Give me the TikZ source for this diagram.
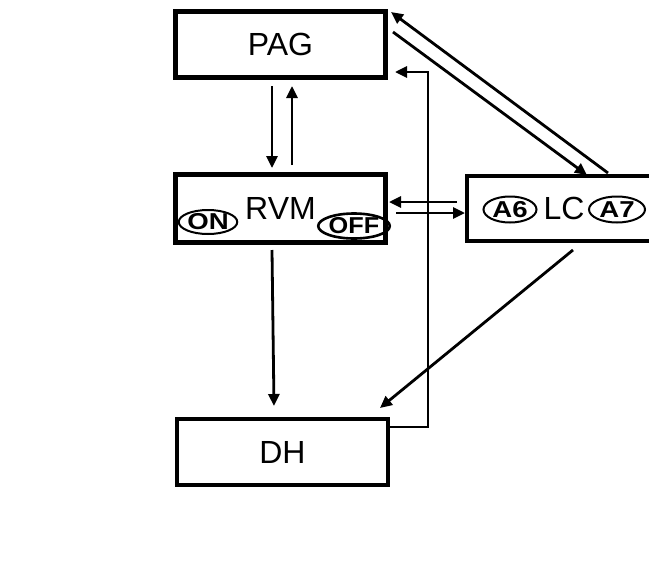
\documentclass[tikz,border=0pt]{standalone}
\usepackage{fontspec}
\setmainfont{Liberation Sans}
\usetikzlibrary{arrows.meta,calc,shapes.geometric}
\begin{document}
\begin{tikzpicture}[x=1pt,y=-1pt,
  bigbox/.style={draw,rectangle,inner sep=0pt,font=\fontsize{32}{32}\selectfont},
  thickbox/.style={bigbox,line width=5pt},
  thinbox/.style={bigbox,line width=4pt},
  oval/.style={draw,ellipse,inner sep=0pt,line width=2pt,font=\fontsize{23}{23}\selectfont\bfseries},
  arr/.style={line width=2.8pt,-{Triangle[length=12pt,width=11pt]}}]
\useasboundingbox (0,0) rectangle (649,584);
\clip (0,0) rectangle (649,584);
\node[thickbox,minimum width=210pt,minimum height=66pt] (PAG) at (280.5,44.5) {PAG};
\node[thickbox,minimum width=210pt,minimum height=68pt] (RVM) at (280.5,208.5) {\raisebox{-2.5pt}{RVM}};
\node[thinbox,minimum width=194pt,minimum height=65pt] (LC) at (564,208.5) {\raisebox{-2pt}{LC}};
\node[thinbox,minimum width=211pt,minimum height=66pt] (DH) at (282.5,452) {DH};
\node[oval,minimum width=52pt,minimum height=24pt] (on) at (208,222) {\scalebox{1.2}[1]{ON}};
\node[oval,line width=2.6pt,minimum width=56pt,minimum height=25pt] (off) at (354,226) {\scalebox{1.1}[1]{OFF}};
\node[oval,minimum width=53pt,minimum height=26pt] (a6) at (510,209.5) {\scalebox{1.2}[1]{A6}};
\node[oval,minimum width=56pt,minimum height=26pt] (a7) at (617,209.5) {\scalebox{1.2}[1]{A7}};
% PAG <-> RVM
\draw[arr] ($(PAG.south west)+(99,6)$) -- ($(RVM.north west)+(99,-4)$);
\draw[arr] ($(RVM.north west)+(119,-7)$) -- ($(PAG.south west)+(119,6)$);
% RVM <-> LC
\draw[arr] ($(LC.west)+(-8,-6.5)$) -- ($(RVM.east)+(1,-6.5)$);
\draw[arr] ($(RVM.east)+(8,4.5)$) -- ($(LC.west)+(0,4.5)$);
% PAG <-> LC
\draw[arr] ($(PAG.east)+(5,-12.5)$) -- ($(LC.north west)+(122,1)$);
\draw[arr] ($(LC.north west)+(143,-1)$) -- ($(PAG.north east)+(3,3)$);
% to DH
\draw[arr] ($(RVM.south west)+(99,5)$) -- ($(DH.north west)+(99,-11)$);
\draw[arr] ($(LC.south west)+(108,7)$) -- ($(DH.north east)+(-10,-9)$);
% DH -> PAG feedback
\draw[arr] ($(DH.east)+(0,-25)$) -- ++(38,0) |- ($(PAG.south east)+(7,-8)$);
\end{tikzpicture}
\end{document}
